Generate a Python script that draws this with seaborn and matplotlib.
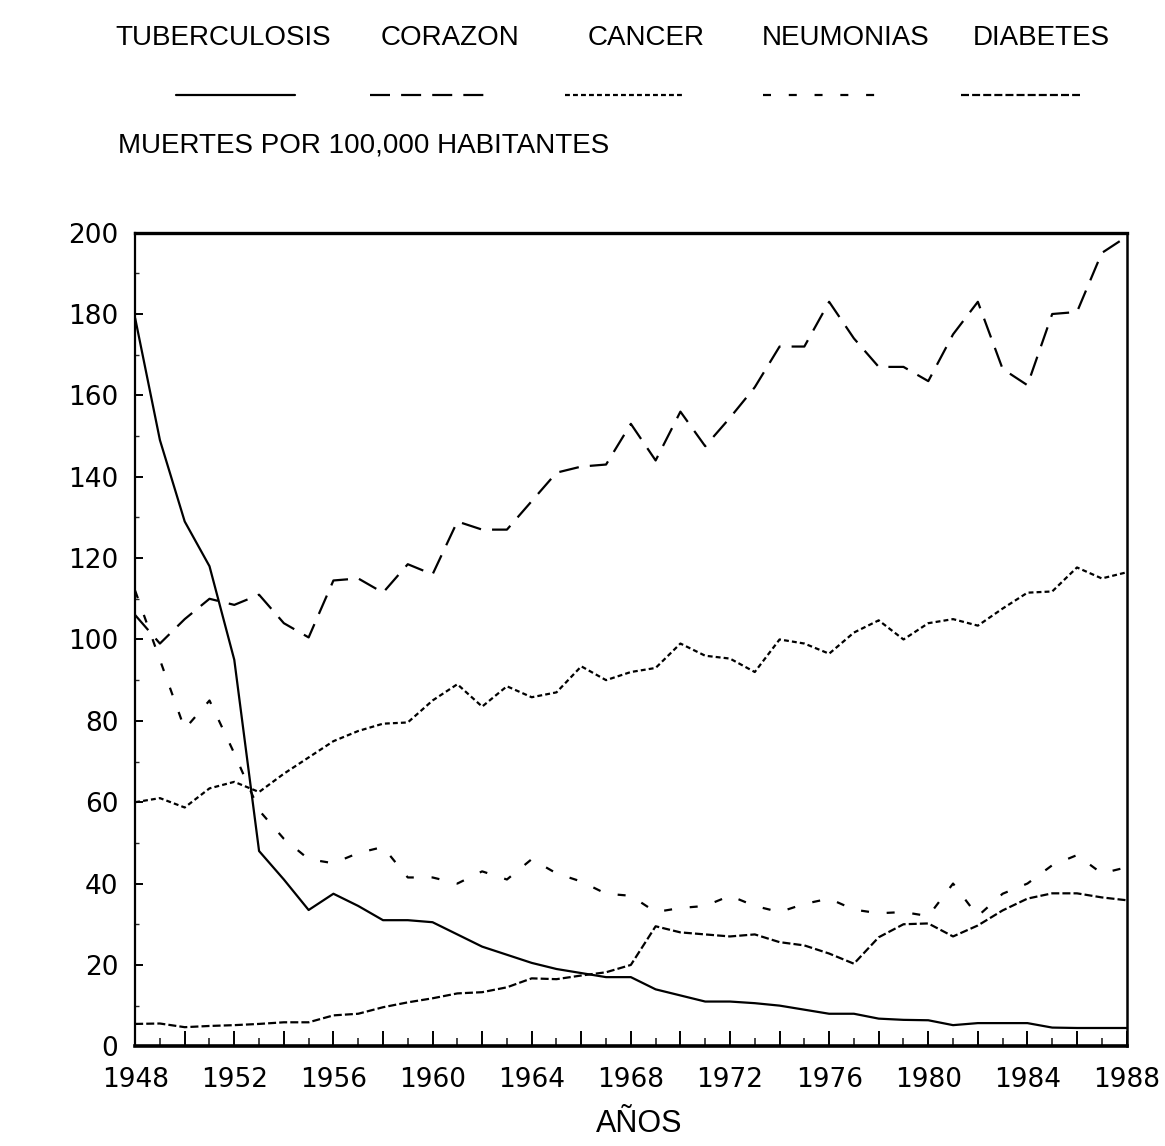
import matplotlib
matplotlib.use('Agg')
import matplotlib.pyplot as plt
from matplotlib.lines import Line2D
from matplotlib.ticker import MultipleLocator, FuncFormatter
import seaborn as sns
import pandas as pd
import numpy as np

# datos: muertes por 100,000 habitantes, 1948-1988
years = list(range(1948, 1989))

tuberculosis = [179, 149, 129, 118, 95, 48, 41, 33.5, 37.5, 34.5,
                31, 31, 30.5, 27.5, 24.5, 22.5, 20.5, 19, 18, 17,
                17, 14, 12.5, 11, 11, 10.6, 10, 9, 8, 8,
                6.8, 6.5, 6.4, 5.2, 5.7, 5.7, 5.7, 4.6, 4.5, 4.5, 4.5]

corazon = [106, 99, 105, 110, 108.5, 111, 104, 100.5, 114.5, 115,
           111.5, 118.5, 116, 129, 127, 127, 134, 141, 142.5, 143,
           153, 144, 156, 147.5, 154.5, 162, 172, 172, 183, 174,
           167, 167, 163.5, 175, 183, 166.5, 162.5, 180, 180.5, 195, 199]

cancer = [60, 61, 58.7, 63.4, 65, 62.5, 67, 71, 75, 77.5,
          79.3, 79.6, 85, 89, 83.5, 88.5, 85.8, 87, 93.4, 90,
          92, 93, 99, 96, 95.3, 92, 100, 99, 96.5, 101.7,
          104.7, 100, 104, 105, 103.4, 107.6, 111.5, 111.8, 117.7, 115, 116.5]

neumonias = [112, 95, 78, 85, 72, 58, 51, 46, 45, 47.5,
             49, 41.5, 41.5, 40, 43, 41, 46, 42.5, 40.5, 37.5,
             37, 33, 34, 34.5, 37, 34.5, 33, 35, 36.3, 33.6,
             32.7, 33, 32, 40, 32, 37.5, 40, 44.5, 47, 42.5, 44]

diabetes = [5.5, 5.6, 4.7, 5, 5.2, 5.5, 5.9, 5.9, 7.6, 8,
            9.6, 10.8, 11.8, 13, 13.3, 14.5, 16.7, 16.5, 17.4, 18.2,
            20, 29.5, 28, 27.5, 27, 27.5, 25.6, 24.8, 22.8, 20.3,
            26.8, 30, 30.2, 27, 29.7, 33.4, 36.3, 37.6, 37.6, 36.6, 35.9]

causes = ['TUBERCULOSIS', 'CORAZON', 'CANCER', 'NEUMONIAS', 'DIABETES']
series = [tuberculosis, corazon, cancer, neumonias, diabetes]

rows = []
for name, vals in zip(causes, series):
    for yr, v in zip(years, vals):
        rows.append({'year': yr, 'value': v, 'causa': name})
df = pd.DataFrame(rows)

dash_styles = {
    'TUBERCULOSIS': '',
    'CORAZON': (9, 5),
    'CANCER': (2.2, 1.4),
    'NEUMONIAS': (3.6, 8),
    'DIABETES': (3.6, 1.4),
}

sns.set_style('white')
plt.rcParams['font.family'] = ['DejaVu Sans']
title_font = ['Liberation Sans Narrow', 'Liberation Sans', 'DejaVu Sans']

fig = plt.figure(figsize=(11.65, 11.46), dpi=100)
ax = fig.add_axes([0.116, 0.087, 0.851, 0.710])

sns.lineplot(data=df, x='year', y='value', style='causa', style_order=causes,
             dashes=dash_styles, color='black', linewidth=1.6, legend=False, ax=ax)

ax.set_xlim(1948, 1988)
ax.set_ylim(0, 200)
ax.set_xlabel('')
ax.set_ylabel('')

ax.xaxis.set_major_locator(MultipleLocator(2))
ax.xaxis.set_minor_locator(MultipleLocator(1))
ax.xaxis.set_major_formatter(FuncFormatter(lambda v, p: f'{int(v)}' if int(v) % 4 == 0 else ''))
ax.yaxis.set_major_locator(MultipleLocator(20))
ax.yaxis.set_minor_locator(MultipleLocator(10))

ax.tick_params(axis='x', which='major', direction='in', length=11, width=1.4,
               labelsize=19, pad=15, colors='black')
ax.tick_params(axis='x', which='minor', direction='in', length=6, width=1.2)
ax.tick_params(axis='y', which='major', direction='in', length=6, width=1.4,
               labelsize=19, pad=12, colors='black')
ax.tick_params(axis='y', which='minor', direction='in', length=3, width=1.0)
ax.tick_params(bottom=True, left=True, which='both')

for side, w in [('top', 2.4), ('bottom', 2.6), ('left', 1.6), ('right', 1.8)]:
    ax.spines[side].set_visible(True)
    ax.spines[side].set_color('black')
    ax.spines[side].set_linewidth(w)

# leyenda: nombre arriba, muestra de linea abajo
label_x = [0.192, 0.386, 0.555, 0.726, 0.894]
line_x = [0.202, 0.369, 0.536, 0.706, 0.876]
for name, cx, lx in zip(causes, label_x, line_x):
    fig.text(cx, 0.967, name, ha='center', va='center', fontsize=20,
             family=title_font, color='black')
    fig.add_artist(Line2D([lx - 0.051, lx + 0.051], [0.917, 0.917],
                          transform=fig.transFigure, color='black', linewidth=1.6,
                          linestyle=(0, dash_styles[name]) if dash_styles[name] else '-'))

fig.text(0.101, 0.873, 'MUERTES POR 100,000 HABITANTES', ha='left', va='center',
         fontsize=20, family=title_font, color='black')
fig.text(0.549, 0.019, 'AÑOS', ha='center', va='center', fontsize=22,
         family=title_font, color='black')

fig.savefig('out.png', dpi=100, facecolor='white')
